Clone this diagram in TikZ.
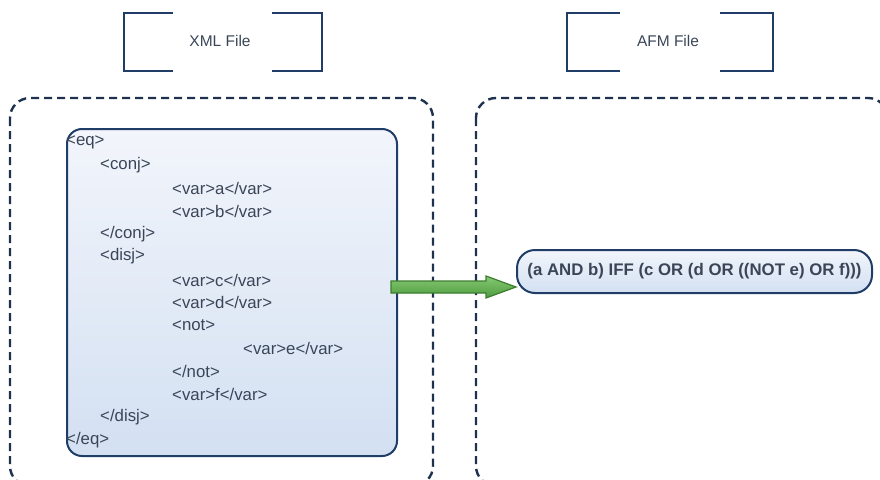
\documentclass[tikz,border=0pt]{standalone}
\usepackage{fontspec}
\setmainfont{Liberation Sans}
\usetikzlibrary{calc}

\definecolor{navy}{HTML}{1F3D66}
\definecolor{dashblue}{HTML}{1E3250}
\definecolor{txt}{HTML}{3A4658}
\definecolor{boxtop}{HTML}{F2F5FB}
\definecolor{boxbot}{HTML}{D3E0F2}
\definecolor{arrtop}{HTML}{86C973}
\definecolor{arrbot}{HTML}{4E9B3E}
\definecolor{arredge}{HTML}{3C7D2E}

\tikzset{
  bracket/.style={draw=navy, line width=2.2pt},
  region/.style={draw=dashblue, line width=2.4pt, dash pattern=on 8pt off 5pt, rounded corners=20pt},
  label/.style={font=\fontsize{15.5}{18}\selectfont, text=txt},
  xmlline/.style={font=\fontsize{16.8}{19}\selectfont, text=txt, anchor=west, inner sep=0pt},
  codebox/.style={draw=navy, line width=2pt, rounded corners=15pt, top color=boxtop, bottom color=boxbot},
  exprbox/.style={draw=navy, line width=2pt, rounded corners=18pt, top color=boxtop, bottom color=boxbot,
    font=\bfseries\fontsize{16.8}{19}\selectfont, text=txt, inner sep=0pt},
  bigarrow/.style={draw=arredge, line width=1.2pt, top color=arrtop, bottom color=arrbot, line join=miter},
}

\begin{document}
\begin{tikzpicture}[x=1pt, y=-1pt]
\useasboundingbox (0,0) rectangle (880,479);

% file headers with open brackets
\node[label] (xmlhead) at (220,41) {XML File};
\draw[bracket] (173,13) -- (124,13) -- (124,71) -- (173,71);
\draw[bracket] (272,13) -- (322,13) -- (322,71) -- (272,71);

\node[label] (afmhead) at (668,41) {AFM File};
\draw[bracket] (620,13) -- (567,13) -- (567,71) -- (620,71);
\draw[bracket] (720,13) -- (773,13) -- (773,71) -- (720,71);

% dashed regions
\draw[region] (10,98) rectangle (433,486);
\draw[region] (476,98) rectangle (888,486);

% XML source
\node[codebox, minimum width=330pt, minimum height=327pt, anchor=north west] (xml) at (66,128) {};
\node[xmlline] (l1)  at (66,142) {<eq>};
\node[xmlline] (l2)  at (100,165) {<conj>};
\node[xmlline] (l3)  at (172,188) {<var>a</var>};
\node[xmlline] (l4)  at (172,211) {<var>b</var>};
\node[xmlline] (l5)  at (100,234) {</conj>};
\node[xmlline] (l6)  at (100,256) {<disj>};
\node[xmlline] (l7)  at (172,280) {<var>c</var>};
\node[xmlline] (l8)  at (172,302) {<var>d</var>};
\node[xmlline] (l9)  at (172,325) {<not>};
\node[xmlline] (l10) at (243,348) {<var>e</var>};
\node[xmlline] (l11) at (172,371) {</not>};
\node[xmlline] (l12) at (172,394) {<var>f</var>};
\node[xmlline] (l13) at (100,417) {</disj>};
\node[xmlline] (l14) at (66,440) {</eq>};

% AFM formula
\node[exprbox, minimum width=355pt, minimum height=43pt] (expr) at (694.5,271.5)
  {(a AND b) IFF (c OR (d OR ((NOT e) OR f)))};

% conversion arrow
\coordinate (arrS) at ([xshift=-7pt]xml.east |- 0,287);
\coordinate (arrT) at (expr.west |- 0,287);
\draw[bigarrow] ($(arrS)+(0,-6)$) -- ($(arrT)+(-30,-6)$) -- ($(arrT)+(-30,-11)$) -- (arrT)
  -- ($(arrT)+(-30,11)$) -- ($(arrT)+(-30,6)$) -- ($(arrS)+(0,6)$) -- cycle;
\end{tikzpicture}
\end{document}
